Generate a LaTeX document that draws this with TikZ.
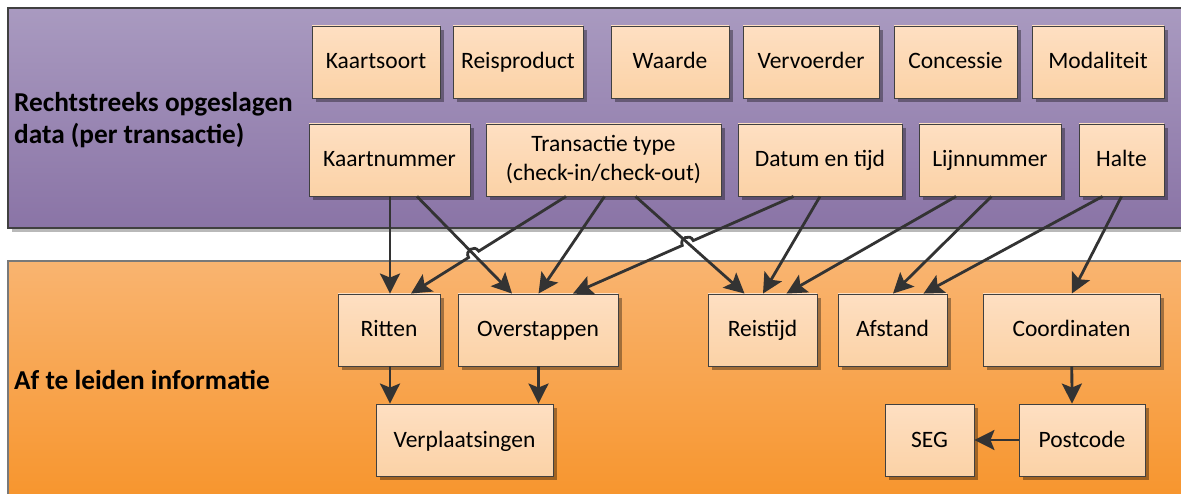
\documentclass[tikz,border=0pt]{standalone}
\usepackage{fontspec}
\setmainfont{Carlito}
\usetikzlibrary{arrows.meta,shadows,calc}
\definecolor{boxtop}{HTML}{FEDFC2}
\definecolor{boxbot}{HTML}{FBD2A6}
\definecolor{purtop}{HTML}{A99AC0}
\definecolor{purbot}{HTML}{8A74A6}
\definecolor{oratop}{HTML}{F9B470}
\definecolor{orabot}{HTML}{F7952D}
\definecolor{lnc}{HTML}{333333}
\definecolor{bord}{HTML}{404040}
\tikzset{
  box/.style={draw=bord, line width=0.9pt, top color=boxtop, bottom color=boxbot,
    minimum height=72pt, inner sep=0pt, align=center,
    text height=18pt, text depth=4pt,
    font=\fontsize{23.5}{29}\selectfont,
    general shadow={shadow xshift=4pt, shadow yshift=-4pt, fill=black, fill opacity=0.35}},
  conn/.style={draw=lnc, line width=2.8pt, -{Stealth[length=20pt,width=20pt,inset=4pt]}},
  lab/.style={anchor=west, align=left, inner sep=0pt, font=\bfseries\fontsize{27.3}{32}\selectfont}
}
\begin{document}
\begin{tikzpicture}[x=1pt,y=-1pt]
\useasboundingbox (0,0) rectangle (1181,494);
% panels
\fill[gray!55] (12,12) rectangle (1195,232);
\shade[top color=purtop, bottom color=purbot] (8,8) rectangle (1195,228);
\draw[bord, line width=1.3pt] (1195,8) -- (8,8) -- (8,228) -- (1195,228);
\shade[top color=oratop, bottom color=orabot] (8,261) rectangle (1195,500);
\draw[bord!70, line width=1.3pt] (1195,261) -- (8,261) -- (8,500);
% labels
\node[lab] (l1) at (14,120) {Rechtstreeks opgeslagen\\data (per transactie)};
\node[lab] (l2) at (14,380) {Af te leiden informatie};
% top row
\node[box, minimum width=128pt] (ks) at (376,62) {Kaartsoort};
\node[box, minimum width=130pt] (rp) at (518,62) {Reisproduct};
\node[box, minimum width=118pt] (wa) at (670,62) {Waarde};
\node[box, minimum width=136pt] (vv) at (811,62) {Vervoerder};
\node[box, minimum width=123pt] (co) at (955.5,62) {Concessie};
\node[box, minimum width=132pt] (mo) at (1098,62) {Modaliteit};
% second row
\node[box, minimum width=161pt] (kn) at (389.5,160) {Kaartnummer};
\node[box, minimum width=235pt, text height=, text depth=] (tt) at (603.5,160) {\rule{0pt}{3pt}Transactie type\\(check-in/check-out)};
\node[box, minimum width=164pt] (dt) at (820,160) {Datum en tijd};
\node[box, minimum width=142pt] (ln) at (990,160) {Lijnnummer};
\node[box, minimum width=85pt] (ha) at (1121.5,160) {Halte};
% third row
\node[box, minimum width=102pt] (ri) at (389,330) {Ritten};
\node[box, minimum width=160pt] (ov) at (538,330) {Overstappen};
\node[box, minimum width=109pt] (rt) at (762.5,330) {Reistijd};
\node[box, minimum width=109pt] (af) at (892.5,330) {Afstand};
\node[box, minimum width=177pt] (cd) at (1071.5,330) {Coordinaten};
% fourth row
\node[box, minimum width=177pt] (vp) at (464.5,440) {Verplaatsingen};
\node[box, minimum width=89pt] (seg) at (929.5,440) {SEG};
\node[box, minimum width=126pt] (pc) at (1082,440) {Postcode};
% connector end points
\coordinate (kn1) at ([xshift=0.5pt]kn.south);
\coordinate (kn2) at ([xshift=27.5pt]kn.south);
\coordinate (tt1) at ([xshift=-37.5pt]tt.south);
\coordinate (tt2) at ([xshift=1pt]tt.south);
\coordinate (tt3) at ([xshift=32pt]tt.south);
\coordinate (dt1) at ([xshift=-26.5pt]dt.south);
\coordinate (dt2) at ([xshift=0pt]dt.south);
\coordinate (ln1) at ([xshift=-34pt]ln.south);
\coordinate (ln2) at ([xshift=1.4pt]ln.south);
\coordinate (ha1) at ([xshift=-19pt]ha.south);
\coordinate (ha2) at ([xshift=0pt]ha.south);
\coordinate (ri2) at ([xshift=22pt]ri.north);
\coordinate (ov1) at ([xshift=-26pt]ov.north);
\coordinate (ov2) at ([xshift=0.5pt]ov.north);
\coordinate (ov3) at ([xshift=35pt]ov.north);
\coordinate (rt1) at ([xshift=-18pt]rt.north);
\coordinate (rt2) at ([xshift=0.5pt]rt.north);
\coordinate (rt3) at ([xshift=24pt]rt.north);
\coordinate (af1) at ([xshift=0.5pt]af.north);
\coordinate (af2) at ([xshift=31pt]af.north);
\coordinate (cd1) at ([xshift=0.3pt]cd.north);
% straight connectors
\draw[conn] (kn1) -- (kn1 |- ri.north);
\draw[conn] (kn2) -- (ov1);
\draw[conn] (tt2) -- (ov2);
\draw[conn] (tt3) -- (rt1);
\draw[conn] (dt2) -- (rt2);
\draw[conn] (ln1) -- (rt3);
\draw[conn] (ln2) -- (af1);
\draw[conn] (ha1) -- (af2);
\draw[conn] (ha2) -- (cd1);
% connectors with line jumps
\coordinate (x1) at (intersection of kn2--ov1 and tt1--ri2);
\coordinate (x1r) at ($(x1)!6pt!(tt1)$);
\coordinate (x1l) at ($(x1)!6pt!(ri2)$);
\draw[conn] (tt1) -- (x1r) .. controls ($(x1r)!8pt!-90:(x1l)$) and ($(x1l)!8pt!90:(x1r)$) .. (x1l) -- (ri2);
\coordinate (x2) at (intersection of tt3--rt1 and dt1--ov3);
\coordinate (x2r) at ($(x2)!6pt!(dt1)$);
\coordinate (x2l) at ($(x2)!6pt!(ov3)$);
\draw[conn] (dt1) -- (x2r) .. controls ($(x2r)!8pt!-90:(x2l)$) and ($(x2l)!8pt!90:(x2r)$) .. (x2l) -- (ov3);
% lower connectors
\draw[conn] ([xshift=1pt]ri.south) -- ([xshift=-74.5pt]vp.north);
\draw[conn] ([xshift=0.5pt]ov.south) -- ([xshift=74pt]vp.north);
\draw[conn] ([xshift=0.3pt]cd.south) -- ([xshift=-10pt]pc.north);
\draw[conn] (pc.west) -- (seg.east);
\end{tikzpicture}
\end{document}
